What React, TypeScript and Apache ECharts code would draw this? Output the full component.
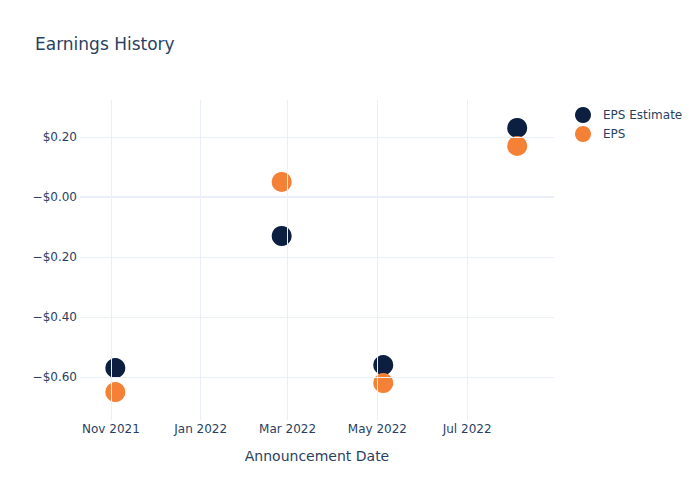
import React, { useEffect, useRef } from "react";
import * as echarts from "echarts";

const dates = ["2021-11-04", "2022-02-25", "2022-05-05", "2022-08-04"];
const epsEstimate = [-0.57, -0.13, -0.56, 0.23];
const eps = [-0.65, 0.05, -0.62, 0.17];
const xTicks = ["2021-11-01", "2022-01-01", "2022-03-01", "2022-05-01", "2022-07-01"];
const yTicks = [-0.6, -0.4, -0.2, 0, 0.2];
const xMin = "2021-10-11";
const xMax = "2022-08-29";
const yMin = -0.743;
const yMax = 0.323;

const MONTHS = ["Jan", "Feb", "Mar", "Apr", "May", "Jun", "Jul", "Aug", "Sep", "Oct", "Nov", "Dec"];
const FONT = "DejaVu Sans";
const TEXT = "#2a3f5f";
const GRID = "#EBF0F8";

function ts(d: string) {
  const [y, m, day] = d.split("-").map(Number);
  return Date.UTC(y, m - 1, day);
}

function fmtMoney(v: number) {
  const r = Math.round(v * 100) / 100;
  if (r > 0) return "$" + r.toFixed(2);
  return "\u2212$" + Math.abs(r).toFixed(2);
}

export default function App() {
  const ref = useRef<HTMLDivElement>(null);
  useEffect(() => {
    if (!ref.current) return;
    const chart = echarts.init(ref.current, undefined, { renderer: "svg" });
    const gridLines = {
      silent: true,
      symbol: "none",
      label: { show: false },
      animation: false,
      data: [
        ...xTicks.map((d) => ({ xAxis: ts(d), lineStyle: { color: GRID, width: 1, type: "solid" } })),
        ...yTicks.map((v) => ({ yAxis: v, lineStyle: { color: GRID, width: v === 0 ? 2 : 1, type: "solid" } })),
      ],
    };
    chart.setOption({
      animation: false,
      backgroundColor: "#fff",
      textStyle: { fontFamily: FONT },
      title: {
        text: "Earnings History",
        left: 30,
        top: 30,
        textStyle: { fontFamily: FONT, fontSize: 17, fontWeight: "normal", color: TEXT },
      },
      legend: {
        orient: "vertical",
        left: 570,
        top: 102,
        icon: "circle",
        itemWidth: 16,
        itemHeight: 16,
        itemGap: 3,
        textStyle: { fontFamily: FONT, fontSize: 12, color: TEXT, padding: [0, 0, 0, 7] },
        data: ["EPS Estimate", "EPS"],
      },
      grid: { left: 80, right: 146, top: 100, bottom: 80, containLabel: false },
      xAxis: {
        type: "value",
        min: ts(xMin),
        max: ts(xMax),
        name: "Announcement Date",
        nameLocation: "middle",
        nameGap: 29,
        nameTextStyle: { fontFamily: FONT, fontSize: 14, color: TEXT },
        axisLine: { show: false },
        axisTick: { show: false },
        splitLine: { show: false },
        axisLabel: {
          customValues: xTicks.map(ts),
          fontFamily: FONT,
          fontSize: 12,
          color: TEXT,
          margin: 3,
          hideOverlap: false,
          showMinLabel: true,
          showMaxLabel: true,
          formatter: (v: number) => {
            const d = new Date(v);
            return MONTHS[d.getUTCMonth()] + " " + d.getUTCFullYear();
          },
        },
      },
      yAxis: {
        type: "value",
        min: yMin,
        max: yMax,
        axisLine: { show: false },
        axisTick: { show: false },
        splitLine: { show: false },
        axisLabel: {
          customValues: yTicks,
          fontFamily: FONT,
          fontSize: 12,
          color: TEXT,
          margin: 3,
          showMinLabel: true,
          showMaxLabel: true,
          formatter: (v: number) => fmtMoney(v),
        },
      },
      series: [
        {
          name: "EPS Estimate",
          type: "scatter",
          symbol: "circle",
          symbolSize: 20,
          itemStyle: { color: "#0C1F40", opacity: 1 },
          data: dates.map((d, i) => [ts(d), epsEstimate[i]]),
          markLine: gridLines,
          z: 3,
        },
        {
          name: "EPS",
          type: "scatter",
          symbol: "circle",
          symbolSize: 20,
          itemStyle: { color: "#F58137", opacity: 1 },
          data: dates.map((d, i) => [ts(d), eps[i]]),
          z: 3,
        },
      ],
    });
    return () => chart.dispose();
  }, []);
  return <div ref={ref} style={{ width: 700, height: 500, margin: -8 }} />;
}
